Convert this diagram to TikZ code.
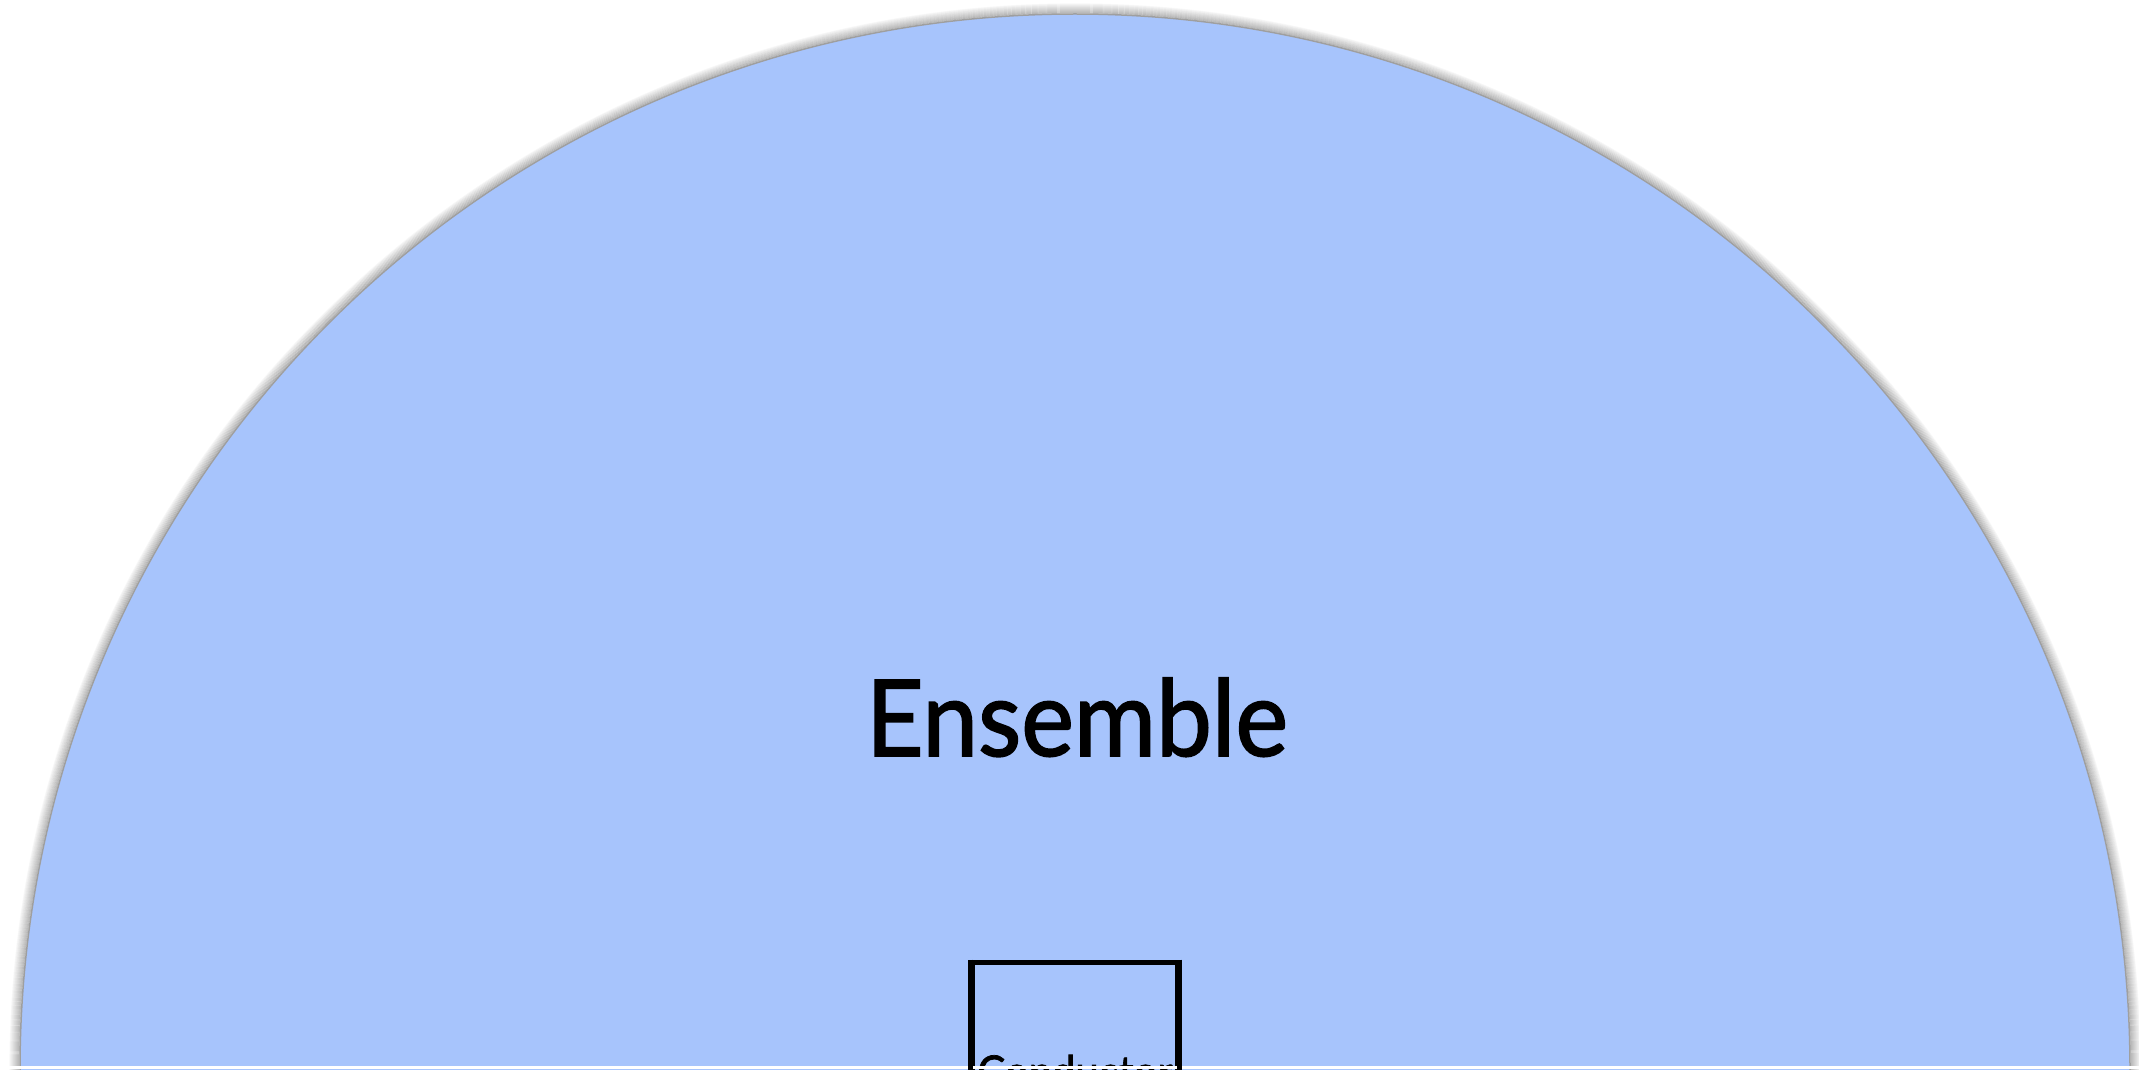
\documentclass[tikz,border=0pt]{standalone}
\usepackage{fontspec}
\setmainfont{Lato}[FakeBold=1.6]
\definecolor{ensembleblue}{HTML}{A7C4FC}

\begin{document}
\begin{tikzpicture}[x=0.1mm,y=0.1mm,
    boxline/.style={draw=black,line width=0.5mm},
    conductorbox/.style={boxline,minimum width=22.05mm,minimum height=21.9mm,
      inner sep=0pt,xscale=0.93,transform shape,font=\fontsize{12.8}{15}\selectfont},
    ensemblelabel/.style={font=\fontsize{30.2}{36}\selectfont,inner sep=0pt,xscale=0.94,transform shape}]

  %%%% Fix the page size and clip to it %%%%
  \useasboundingbox (0,0) rectangle (2139,1069);
  \clip (0,0) rectangle (2139,1069);

  \coordinate (hub) at (1075,0);
  \def\ensembleradius{1055}

  %% Draw the soft shadow round the half disc
  \foreach \i in {1,...,10}{
    \draw[black,opacity=\fpeval{0.25 - 0.022*\i},line width=0.12mm] (hub) circle (\ensembleradius + \i);
  }
  %% Draw the half disc
  \draw[gray!75,fill=ensembleblue,line width=0.15mm] (hub) circle (\ensembleradius);

  %% Label the ensemble
  \node[ensemblelabel,anchor=base] (ensemble) at (1077,313) {Ensemble};

  %% Conductor box, cut off by the page edge
  \node[conductorbox,anchor=north] (conductor) at (1075,109.5) {Conductor};
  \fill[white] (0,0) rectangle (2139,3.5);
  \draw[boxline] (conductor.north west) -- (conductor.south west)
                 (conductor.north east) -- (conductor.south east);

\end{tikzpicture}
\end{document}
